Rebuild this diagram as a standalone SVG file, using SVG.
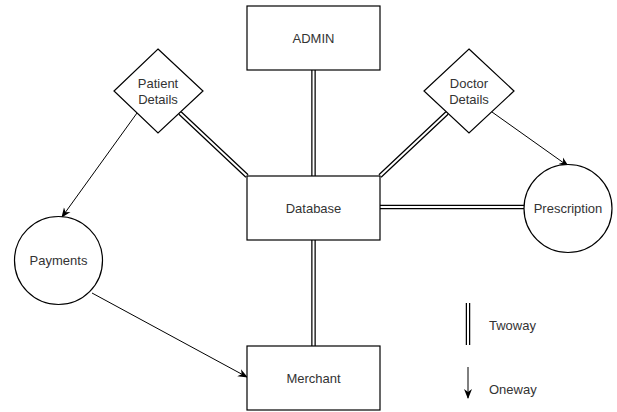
<svg xmlns="http://www.w3.org/2000/svg" width="617" height="412" viewBox="0 0 617 412">
<defs>
<marker id="ah" viewBox="0 0 10 10" refX="9" refY="5" markerWidth="10" markerHeight="10" markerUnits="userSpaceOnUse" orient="auto">
<path d="M0,1 L10,5 L0,9 L3,5 Z" fill="#000"/>
</marker>
</defs>
<style>
.shape{fill:#fff;stroke:#000;stroke-width:1.2}
.lbl{font-family:"Liberation Sans",Arial,sans-serif;font-size:13px;fill:#333;text-anchor:middle}
.dblo{stroke:#000;stroke-width:4.5;fill:none}
.dbli{stroke:#fff;stroke-width:2;fill:none}
.one{stroke:#000;stroke-width:1;fill:none;marker-end:url(#ah)}
</style>
<rect width="617" height="412" fill="#fff"/>
<g id="connectors">
<path class="dblo" d="M313.5,70 V176 M313.5,240 V346 M380,207 H524 M180,113 L247,176 M447,113 L380,176"/>
<path class="dbli" d="M313.5,70 V176 M313.5,240 V346 M380,207 H524 M180,113 L247,176 M447,113 L380,176"/>
<path class="one" d="M137,113 L62,217"/>
<path class="one" d="M492,112 L568,166"/>
<path class="one" d="M92,293 L247,377"/>
</g>
<g id="admin"><rect class="shape" x="247" y="6" width="133" height="64"/><text class="lbl" x="313.5" y="43">ADMIN</text></g>
<g id="database"><rect class="shape" x="247" y="176" width="133" height="64"/><text class="lbl" x="313.5" y="213">Database</text></g>
<g id="merchant"><rect class="shape" x="247" y="346" width="133" height="64"/><text class="lbl" x="313.5" y="383">Merchant</text></g>
<g id="patient-details"><path class="shape" d="M158,49 L203,91 L158,133 L114,91 Z"/><text class="lbl" x="158" y="88">Patient</text><text class="lbl" x="158" y="104">Details</text></g>
<g id="doctor-details"><path class="shape" d="M469,49 L514,91 L469,133 L424,91 Z"/><text class="lbl" x="469" y="88">Doctor</text><text class="lbl" x="469" y="104">Details</text></g>
<g id="prescription"><circle class="shape" cx="568" cy="208.5" r="44"/><text class="lbl" x="568" y="213">Prescription</text></g>
<g id="payments"><circle class="shape" cx="58.5" cy="260.5" r="44"/><text class="lbl" x="58.5" y="265">Payments</text></g>
<g id="legend">
<path class="dblo" d="M468,303 V345"/><path class="dbli" d="M468,303 V345"/>
<text class="lbl" x="489" y="330" style="text-anchor:start">Twoway</text>
<path class="one" d="M468,367 V398"/>
<text class="lbl" x="489" y="394" style="text-anchor:start">Oneway</text>
</g>
</svg>
